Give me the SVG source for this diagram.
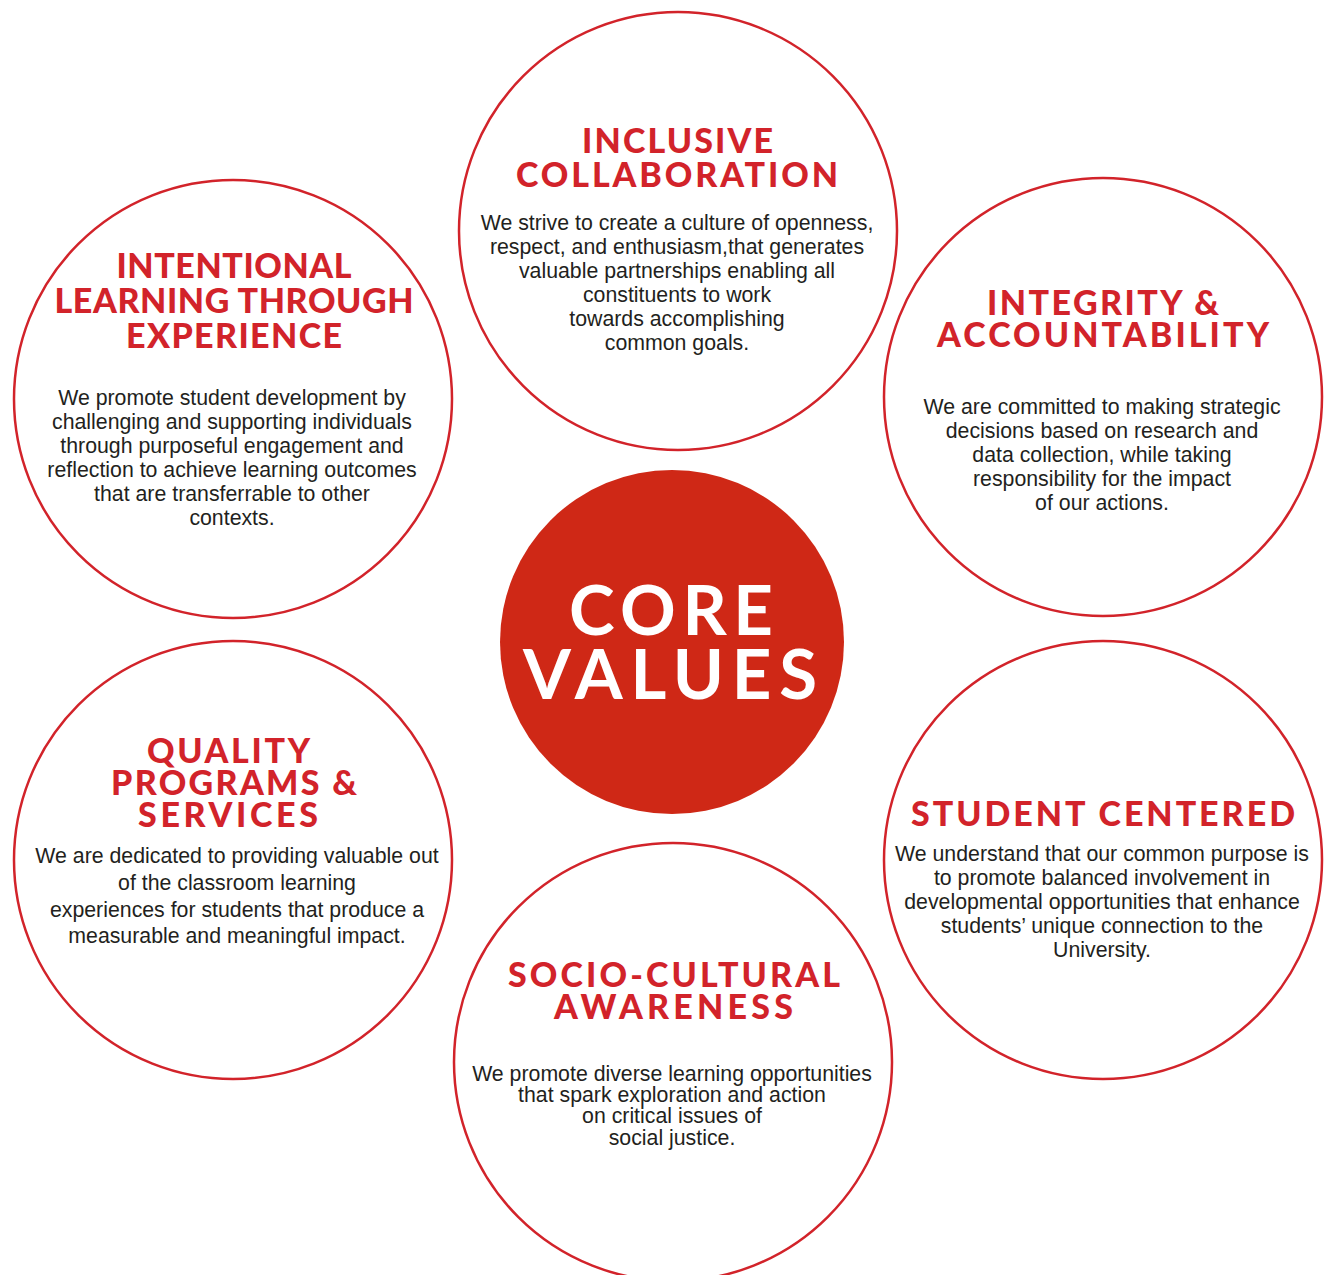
<svg xmlns="http://www.w3.org/2000/svg" width="1327" height="1275" viewBox="0 0 1327 1275">
<style>
.ring{fill:#fff;stroke:#d2232a;stroke-width:2.5}
.core{fill:#cf2816}
.h{font-family:Lato,"Open Sans","Liberation Sans",sans-serif;font-weight:900;font-size:34px;fill:#d2232a;text-anchor:middle}
.b{font-family:"Liberation Sans",Arial,sans-serif;font-size:21.3px;fill:#231f20;text-anchor:middle}
.c{font-family:Lato,"Open Sans","Liberation Sans",sans-serif;font-weight:700;font-size:69px;fill:#fff;text-anchor:middle}
</style>
<rect width="1327" height="1275" fill="#fff"/>
<g id="connectors"></g>
<g id="inclusive-collaboration">
<circle class="ring" cx="678" cy="231" r="219"/>
<text class="h" x="677.5" y="153" textLength="191" lengthAdjust="spacing">INCLUSIVE</text>
<text class="h" x="677" y="187" textLength="322" lengthAdjust="spacing">COLLABORATION</text>
<text class="b" x="677" y="230">We strive to create a culture of openness,</text>
<text class="b" x="677" y="254">respect, and enthusiasm,that generates</text>
<text class="b" x="677" y="278">valuable partnerships enabling all</text>
<text class="b" x="677" y="302">constituents to work</text>
<text class="b" x="677" y="326">towards accomplishing</text>
<text class="b" x="677" y="350">common goals.</text>
</g>
<g id="intentional-learning">
<circle class="ring" cx="233" cy="399" r="219"/>
<text class="h" x="234" y="278" textLength="235" lengthAdjust="spacing">INTENTIONAL</text>
<text class="h" x="234" y="313" textLength="359" lengthAdjust="spacing">LEARNING THROUGH</text>
<text class="h" x="234" y="348" textLength="216" lengthAdjust="spacing">EXPERIENCE</text>
<text class="b" x="232" y="405">We promote student development by</text>
<text class="b" x="232" y="429">challenging and supporting individuals</text>
<text class="b" x="232" y="453">through purposeful engagement and</text>
<text class="b" x="232" y="477">reflection to achieve learning outcomes</text>
<text class="b" x="232" y="501">that are transferrable to other</text>
<text class="b" x="232" y="525">contexts.</text>
</g>
<g id="integrity-accountability">
<circle class="ring" cx="1103" cy="397" r="219"/>
<text class="h" x="1103" y="315" textLength="232" lengthAdjust="spacing">INTEGRITY &amp;</text>
<text class="h" x="1103" y="347" textLength="332" lengthAdjust="spacing">ACCOUNTABILITY</text>
<text class="b" x="1102" y="414">We are committed to making strategic</text>
<text class="b" x="1102" y="438">decisions based on research and</text>
<text class="b" x="1102" y="462">data collection, while taking</text>
<text class="b" x="1102" y="486">responsibility for the impact</text>
<text class="b" x="1102" y="510">of our actions.</text>
</g>
<g id="core-values">
<circle class="core" cx="672" cy="642" r="172"/>
<text class="c" x="671" y="635" textLength="204" lengthAdjust="spacing">CORE</text>
<text class="c" x="670" y="699" textLength="294" lengthAdjust="spacing">VALUES</text>
</g>
<g id="quality-programs">
<circle class="ring" cx="233" cy="860" r="219"/>
<text class="h" x="228.5" y="763" textLength="163" lengthAdjust="spacing">QUALITY</text>
<text class="h" x="234" y="795" textLength="246" lengthAdjust="spacing">PROGRAMS &amp;</text>
<text class="h" x="228" y="827" textLength="180" lengthAdjust="spacing">SERVICES</text>
<text class="b" x="237" y="863">We are dedicated to providing valuable out</text>
<text class="b" x="237" y="890">of the classroom learning</text>
<text class="b" x="237" y="917">experiences for students that produce a</text>
<text class="b" x="237" y="943">measurable and meaningful impact.</text>
</g>
<g id="student-centered">
<circle class="ring" cx="1103" cy="860" r="219"/>
<text class="h" x="1103" y="826" textLength="384" lengthAdjust="spacing">STUDENT CENTERED</text>
<text class="b" x="1102" y="861">We understand that our common purpose is</text>
<text class="b" x="1102" y="885">to promote balanced involvement in</text>
<text class="b" x="1102" y="909">developmental opportunities that enhance</text>
<text class="b" x="1102" y="933">students’ unique connection to the</text>
<text class="b" x="1102" y="957">University.</text>
</g>
<g id="socio-cultural">
<circle class="ring" cx="673" cy="1062" r="219"/>
<text class="h" x="674" y="987" textLength="332" lengthAdjust="spacing">SOCIO-CULTURAL</text>
<text class="h" x="673.5" y="1019" textLength="239" lengthAdjust="spacing">AWARENESS</text>
<text class="b" x="672" y="1081">We promote diverse learning opportunities</text>
<text class="b" x="672" y="1102">that spark exploration and action</text>
<text class="b" x="672" y="1123">on critical issues of</text>
<text class="b" x="672" y="1145">social justice.</text>
</g>
</svg>
